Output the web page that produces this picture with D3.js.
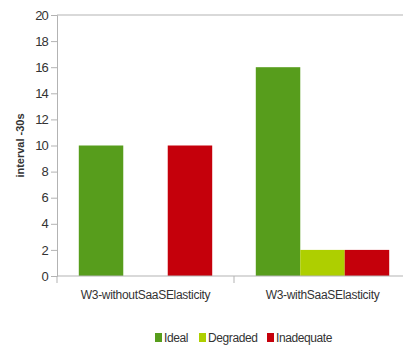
<!DOCTYPE html>
<html>
<head>
<meta charset="utf-8">
<script src="https://d3js.org/d3.v7.min.js"></script>
<style>
body { margin: 0; background: #fff; }
text { font-family: "Liberation Sans", Arial, sans-serif; }
</style>
</head>
<body>
<script>
var categories = ["W3-withoutSaaSElasticity", "W3-withSaaSElasticity"];
var seriesNames = ["Ideal", "Degraded", "Inadequate"];
var colors = ["#579d1c", "#aecf00", "#c5000b"];
var ideal = [10, 16];
var degraded = [0, 2];
var inadequate = [10, 2];
var yTicks = [0, 2, 4, 6, 8, 10, 12, 14, 16, 18, 20];

var values = [ideal, degraded, inadequate];

var w = 403, h = 352;
var svg = d3.select("body").append("svg")
  .attr("width", w)
  .attr("height", h);

var plotLeft = 57, plotTop = 15, plotBottom = 276, plotRight = 411;

var x = d3.scaleBand().domain(categories).range([plotLeft, plotRight]);
var inner = d3.scaleBand().domain(seriesNames).range([0, x.bandwidth()]).paddingOuter(0.49);
var y = d3.scaleLinear().domain([0, 20]).range([plotBottom, plotTop]);

// top border line
svg.append("line")
  .attr("x1", plotLeft).attr("x2", w)
  .attr("y1", y(20)).attr("y2", y(20))
  .attr("stroke", "#b3b3b3");

// bars
var rows = [];
categories.forEach(function(c, i) {
  seriesNames.forEach(function(s, j) {
    rows.push({cat: c, s: s, v: values[j][i], color: colors[j]});
  });
});

svg.selectAll("rect.bar")
  .data(rows.filter(function(d) { return d.v > 0; }))
  .enter().append("rect")
  .attr("class", "bar")
  .attr("x", function(d) { return x(d.cat) + inner(d.s); })
  .attr("y", function(d) { return y(d.v); })
  .attr("width", inner.bandwidth())
  .attr("height", function(d) { return y(0) - y(d.v); })
  .attr("fill", function(d) { return d.color; });

// y axis
var yAxis = d3.axisLeft(y).tickValues(yTicks).tickSize(6).tickPadding(3);
var gy = svg.append("g").attr("transform", "translate(" + plotLeft + ",0)").call(yAxis);
gy.select(".domain").attr("stroke", "#b3b3b3");
gy.selectAll(".tick line").attr("stroke", "#b3b3b3");
gy.selectAll(".tick text")
  .attr("fill", "#333")
  .style("font-size", "13px")
  .style("letter-spacing", "-0.8px");

// x axis
var xAxis = d3.axisBottom(x).tickSize(0).tickPadding(14);
var gx = svg.append("g").attr("transform", "translate(0," + plotBottom + ")").call(xAxis);
gx.select(".domain").remove();
gx.append("line").attr("x1", plotLeft).attr("x2", w).attr("stroke", "#b3b3b3");
gx.selectAll(".sep")
  .data([plotLeft].concat(categories.map(function(c) { return x(c) + x.bandwidth(); })))
  .enter().append("line")
  .attr("x1", function(d) { return d; }).attr("x2", function(d) { return d; })
  .attr("y1", 0).attr("y2", 7)
  .attr("stroke", "#b3b3b3");
gx.selectAll(".tick text")
  .attr("fill", "#333")
  .style("font-size", "12px")
  .style("letter-spacing", "-0.3px");

// y label
svg.append("text")
  .attr("transform", "translate(24," + ((plotTop + plotBottom) / 2) + ") rotate(-90)")
  .attr("text-anchor", "middle")
  .style("font-size", "11px")
  .style("font-weight", "bold")
  .attr("fill", "#333")
  .text("interval -30s");

// legend
var legX = [155, 199, 267];
var leg = svg.selectAll("g.leg")
  .data(seriesNames)
  .enter().append("g")
  .attr("class", "leg")
  .attr("transform", function(d, i) { return "translate(" + legX[i] + ",333)"; });
leg.append("rect")
  .attr("width", 7).attr("height", 9)
  .attr("fill", function(d, i) { return colors[i]; });
leg.append("text")
  .attr("x", 9).attr("y", 9)
  .attr("fill", "#333")
  .style("font-size", "12px")
  .style("letter-spacing", "-0.4px")
  .text(function(d) { return d; });
</script>
</body>
</html>
